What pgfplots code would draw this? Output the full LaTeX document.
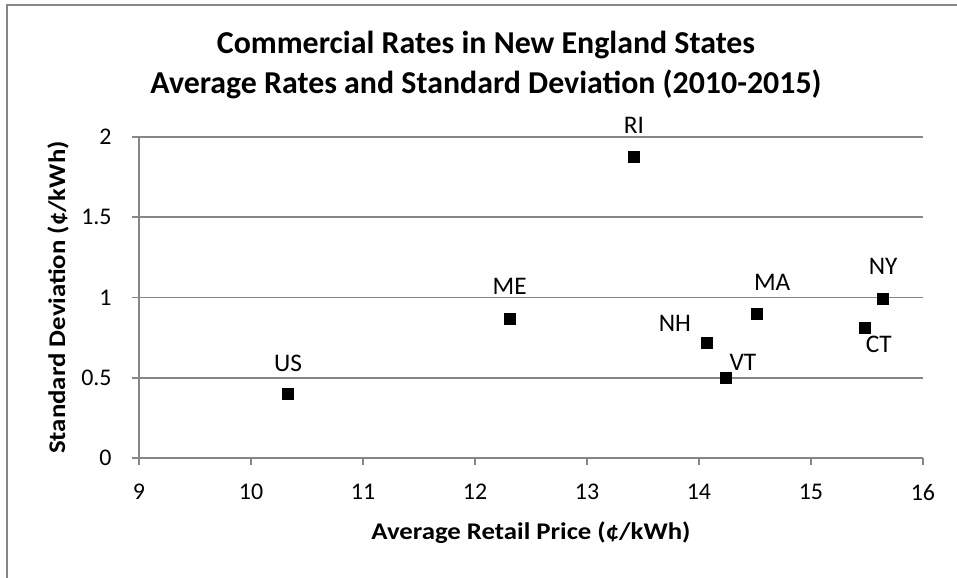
\documentclass[border=0pt]{standalone}
\usepackage{graphicx}
\usepackage{pgfplots}
\pgfplotsset{compat=1.18}
\usepackage{fontspec}
\setmainfont{Carlito}
\definecolor{axgray}{HTML}{868686}
\begin{document}
\begin{tikzpicture}
\useasboundingbox (-69.5bp,-60bp) rectangle (409bp,229bp);
\draw[axgray, line width=0.9bp] (-66bp,-62bp) -- (-66bp,226.5bp) -- (412bp,226.5bp);
\begin{axis}[
  anchor=south west, at={(0,0)},
  width=392bp, height=160.5bp, scale only axis,
  xmin=9, xmax=16, ymin=0, ymax=2,
  xtick={9,10,...,16}, ytick={0,0.5,1,1.5,2},
  axis lines*=left,
  axis line style={axgray, line width=0.8bp},
  ymajorgrids, major grid style={axgray, line width=0.8bp},
  tick align=outside, major tick length=3.5bp,
  tick style={axgray, line width=0.8bp},
  /pgf/number format/assume math mode=true,
  ticklabel style={font=\fontsize{12}{14}\selectfont},
  xticklabel style={anchor=north, inner sep=0pt, yshift=-9.5bp},
  yticklabel style={anchor=east, inner sep=0pt, xshift=-10bp},
  xlabel={\scalebox{1.12}[1]{Average Retail Price (¢/kWh)}},
  ylabel={\scalebox{1.12}[1]{Standard Deviation (¢/kWh)}},
  label style={font=\bfseries\fontsize{12}{14}\selectfont},
  xlabel style={at={(axis description cs:0.5,-0.233)}, anchor=center, inner sep=0pt},
  ylabel style={at={(axis description cs:-0.1033,0.5)}, anchor=center, rotate=0, inner sep=0pt},
  clip=false,
]
\addplot[only marks, mark=square*, mark size=2.75bp, black,
  point meta=explicit symbolic,
  visualization depends on={\thisrow{dx}\as\dx},
  visualization depends on={\thisrow{dy}\as\dy},
  nodes near coords,
  every node near coord/.append style={font=\fontsize{12.7}{14}\selectfont, anchor=center, inner sep=0pt, xshift=\dx bp, yshift=\dy bp, text=black},
] table[meta=lbl] {
x y lbl dx dy
10.33 0.397 US 0 15.5
12.31 0.867 ME 0 16
13.42 1.873 RI 0 16
14.07 0.718 NH -16 9.5
14.24 0.498 VT 8.5 8
14.52 0.900 MA 7.5 15.5
15.48 0.812 CT 7 -8.5
15.645 0.989 NY 0 16.5
};
\end{axis}
\node[anchor=base, font=\bfseries\fontsize{16}{18}\selectfont, inner sep=0pt] at (173.5bp,202.3bp) {Commercial Rates in New England States};
\node[anchor=base, font=\bfseries\fontsize{16}{18}\selectfont, inner sep=0pt] at (173.5bp,182bp) {Average Rates and Standard Deviation (2010-2015)};
\end{tikzpicture}
\end{document}
